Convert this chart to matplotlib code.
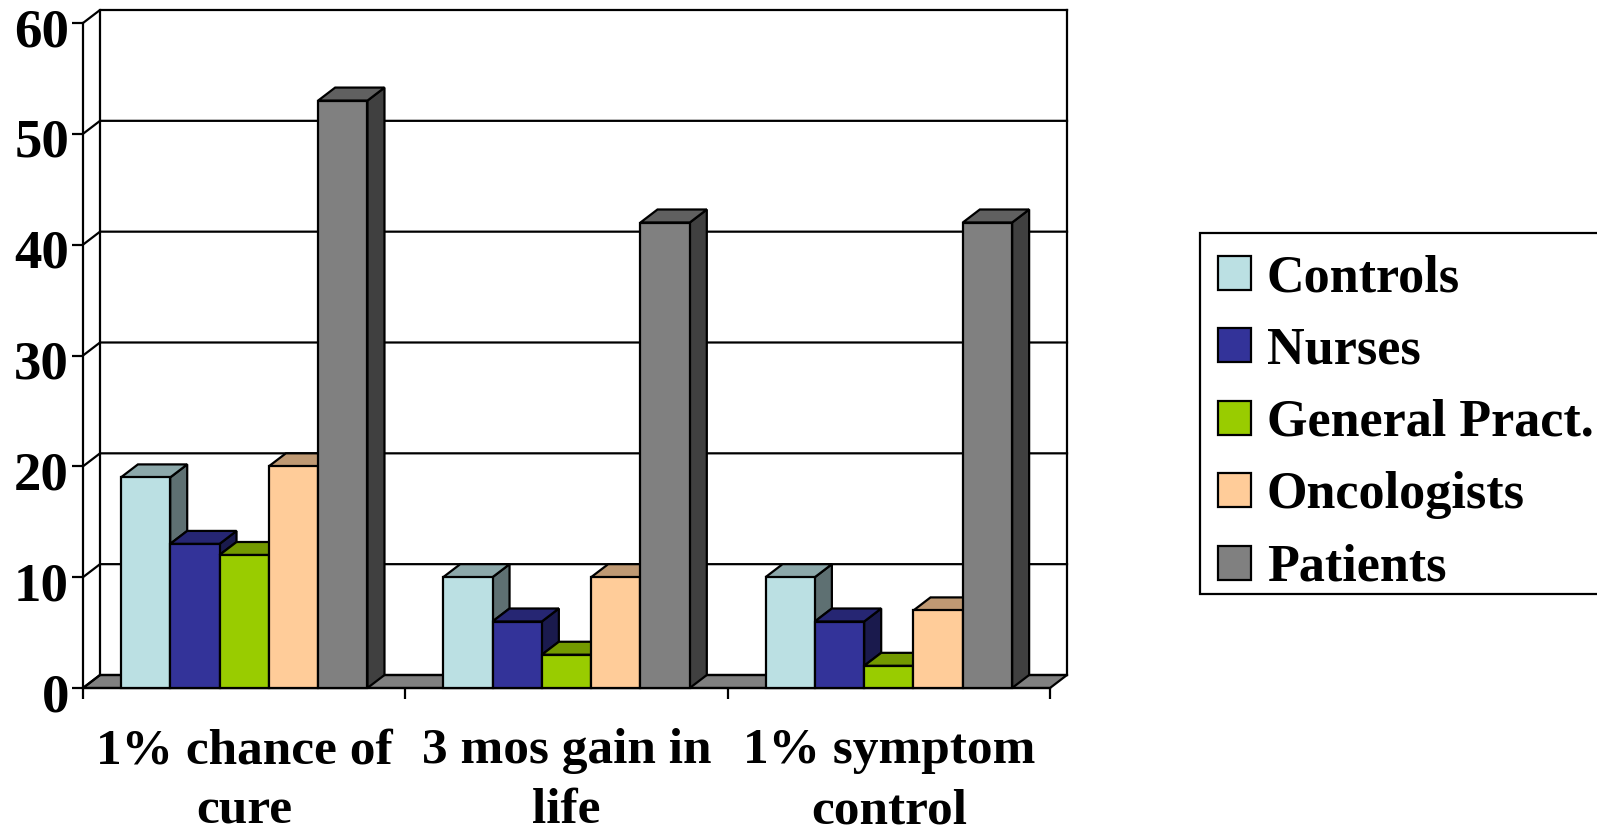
import numpy as np
import matplotlib
matplotlib.use('Agg')
import matplotlib.pyplot as plt
from matplotlib.colors import to_rgb
from matplotlib.patches import Patch, Polygon, Rectangle
from matplotlib.transforms import ScaledTranslation

categories = ['1% chance of\ncure', '3 mos gain in\nlife', '1% symptom\ncontrol']
series_names = ['Controls', 'Nurses', 'General Pract.', 'Oncologists', 'Patients']
controls = [19, 10, 10]
nurses = [13, 6, 6]
general_pract = [12, 3, 2]
oncologists = [20, 10, 7]
patients = [53, 42, 42]
series_values = [controls, nurses, general_pract, oncologists, patients]
series_colors = ['#BBE0E3', '#333399', '#99CC00', '#FFCC99', '#808080']
y_ticks = [0, 10, 20, 30, 40, 50, 60]

DEPTH_X = 17 / 322
DEPTH_Y = 13 / 11.08
BAR_WIDTH = 0.153
EDGE = 1.6

plt.rcParams['font.family'] = ['Liberation Serif', 'DejaVu Serif']
plt.rcParams['font.weight'] = 'bold'


def shade(color, factor):
    return tuple(c * factor for c in to_rgb(color))


def draw_walls(ax):
    n = len(categories)
    top = y_ticks[-1]
    floor = [(0, 0), (DEPTH_X, DEPTH_Y), (n + DEPTH_X, DEPTH_Y), (n, 0)]
    ax.add_patch(Polygon(floor, facecolor='#808080', edgecolor='black',
                         lw=EDGE, clip_on=False, zorder=1))
    for v in y_ticks:
        ax.plot([0, DEPTH_X, n + DEPTH_X], [v, v + DEPTH_Y, v + DEPTH_Y],
                color='black', lw=EDGE, clip_on=False, zorder=1)
    for x in (DEPTH_X, n + DEPTH_X):
        ax.plot([x, x], [DEPTH_Y, top + DEPTH_Y], color='black', lw=EDGE,
                clip_on=False, zorder=1)


def draw_bars(ax):
    zorder = 2
    for c in range(len(categories)):
        start = c + 0.5 - BAR_WIDTH * len(series_values) / 2
        for s, values in enumerate(series_values):
            h = values[c]
            next_h = series_values[s + 1][c] if s + 1 < len(series_values) else 0
            color = series_colors[s]
            x0 = start + s * BAR_WIDTH
            x1 = x0 + BAR_WIDTH
            low = min(next_h, h)
            side = [(x1, low), (x1, h), (x1 + DEPTH_X, h + DEPTH_Y),
                    (x1 + DEPTH_X, low + DEPTH_Y)]
            lid = [(x0, h), (x1, h), (x1 + DEPTH_X, h + DEPTH_Y),
                   (x0 + DEPTH_X, h + DEPTH_Y)]
            ax.add_patch(Polygon(side, facecolor=shade(color, 0.5), edgecolor='black',
                                 lw=EDGE, clip_on=False, zorder=zorder))
            ax.add_patch(Polygon(lid, facecolor=shade(color, 0.75), edgecolor='black',
                                 lw=EDGE, clip_on=False, zorder=zorder))
            ax.bar(x0, h, width=BAR_WIDTH, align='edge', color=color, edgecolor='black',
                   linewidth=EDGE, zorder=zorder, clip_on=False)
            zorder += 1


def main():
    fig = plt.figure(figsize=(15.97, 8.34), dpi=100)
    ax = fig.add_axes([83 / 1597, 1 - 688 / 834, 967 / 1597, 665 / 834])
    ax.set_xlim(0, len(categories))
    ax.set_ylim(y_ticks[0], y_ticks[-1])

    draw_walls(ax)
    draw_bars(ax)

    ax.spines['top'].set_visible(False)
    ax.spines['right'].set_visible(False)
    ax.spines['left'].set_linewidth(EDGE)
    ax.spines['bottom'].set_linewidth(EDGE)
    ax.spines['left'].set_zorder(1.5)
    ax.spines['bottom'].set_zorder(1.5)

    ax.set_yticks(y_ticks)
    ax.tick_params(axis='y', labelsize=39.5, length=8, width=EDGE, pad=2)
    # the labels in the reference sit a little under their ticks
    shift = ScaledTranslation(0, -3 / 72, fig.dpi_scale_trans)
    for label in ax.get_yticklabels():
        label.set_transform(label.get_transform() + shift)

    ax.set_xticks(np.arange(len(categories) + 1))
    ax.set_xticklabels([])
    ax.tick_params(axis='x', which='major', length=8, width=EDGE)
    ax.set_xticks(np.arange(len(categories)) + 0.5, categories, minor=True)
    ax.tick_params(axis='x', which='minor', length=0, labelsize=37, pad=29)
    for label in ax.get_xticklabels(minor=True):
        label.set_linespacing(1.4)

    # legend box runs off the right edge of the picture, so it is drawn apart
    fig.add_artist(Rectangle((1200 / 1597, 1 - 594 / 834), 420 / 1597, 361 / 834,
                             transform=fig.transFigure, facecolor='white',
                             edgecolor='black', linewidth=EDGE))
    handles = [Patch(facecolor=c, edgecolor='black', linewidth=EDGE) for c in series_colors]
    fig.legend(handles, series_names, loc='upper left',
               bbox_to_anchor=(1218 / 1597, 1 - 254 / 834), borderaxespad=0,
               fontsize=37.5, frameon=False, handlelength=0.63, handleheight=0.63,
               handletextpad=0.31, labelspacing=0.47, borderpad=0)

    fig.savefig('out.png', dpi=100, facecolor='white')


if __name__ == "__main__":
    main()
